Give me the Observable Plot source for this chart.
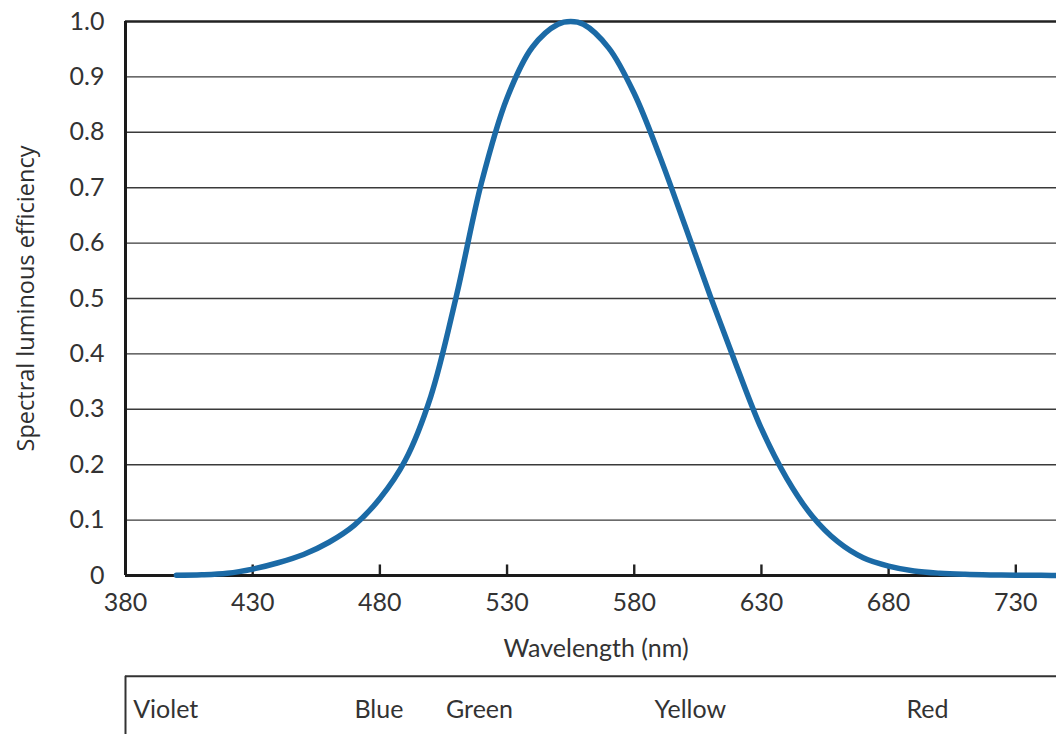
<!DOCTYPE html>
<html><head><meta charset="utf-8">
<script src="https://cdn.jsdelivr.net/npm/d3@7"></script>
<script src="https://cdn.jsdelivr.net/npm/@observablehq/plot@0.6"></script>
<style>
body{margin:0;background:#fff}
#chart svg{display:block;font-family:Lato,"Open Sans",sans-serif}
</style>
</head><body><div id="chart"></div>
<script>
// Spectral luminous efficiency
const wavelength = [400,410,420,430,440,450,460,470,480,490,500,510,520,530,540,550,555,560,570,580,590,600,610,620,630,640,650,660,670,680,690,700,710,720,730,740,750];
const efficiency = [0.0004,0.0012,0.004,0.0116,0.023,0.038,0.06,0.091,0.139,0.208,0.323,0.503,0.71,0.862,0.954,0.995,1.0,0.995,0.952,0.87,0.757,0.631,0.503,0.381,0.265,0.175,0.107,0.061,0.032,0.017,0.0082,0.0041,0.0021,0.00105,0.00052,0.00025,0.00012];
const xTicks = [380,430,480,530,580,630,680,730];
const xTickLabels = ["380","430","480","530","580","630","680","730"];
const yTicks = [0,0.1,0.2,0.3,0.4,0.5,0.6,0.7,0.8,0.9,1.0];
const yTickLabels = ["0","0.1","0.2","0.3","0.4","0.5","0.6","0.7","0.8","0.9","1.0"];
const bandNames = ["Violet","Blue","Green","Yellow","Red"];
const bandStart = [383,470,506,588,687];
const xLabel = "Wavelength (nm)";
const yLabel = "Spectral luminous efficiency";

const curve = wavelength.map((w,i)=>({w, v: efficiency[i]}));
const bands = bandNames.map((n,i)=>({n, x: bandStart[i]}));
const xMap = new Map(xTicks.map((t,i)=>[t,xTickLabels[i]]));
const yMap = new Map(yTicks.map((t,i)=>[t,yTickLabels[i]]));

const xMin = 380, xMax = 746;
const stripTop = -0.182, stripText = -0.242, stripBottom = -0.3;

const chart = Plot.plot({
  width: 1056, height: 734,
  marginLeft: 125, marginRight: 0, marginTop: 21, marginBottom: 159,
  style: {fontFamily: "Lato, 'Open Sans', sans-serif", color: "#333", background: "#fff"},
  x: {domain: [xMin, xMax], axis: null},
  y: {domain: [0, 1], axis: null},
  marks: [
    Plot.ruleY(yTicks.filter(t => t > 0 && t < 1), {stroke: "#3a3a3a", strokeWidth: 1.4, x1: xMin, x2: xMax}),
    Plot.ruleY([1], {stroke: "#222", strokeWidth: 2.6, x1: xMin, x2: xMax}),
    Plot.ruleX(xTicks.slice(1), {y1: 0, y2: 0.019, stroke: "#222", strokeWidth: 2.4}),
    Plot.ruleY([0], {stroke: "#1a1a1a", strokeWidth: 3, x1: xMin, x2: xMax}),
    Plot.ruleX([xMin], {y1: 0, y2: 1, stroke: "#1a1a1a", strokeWidth: 3}),
    Plot.line(curve, {x: "w", y: "v", stroke: "#1b6aa6", strokeWidth: 5.5, curve: "catmull-rom"}),
    Plot.axisX({ticks: xTicks, tickFormat: d => xMap.get(d), tickSize: 0, tickPadding: 18, fontSize: 25, label: null, fill: "#333"}),
    Plot.axisY({ticks: yTicks, tickFormat: d => yMap.get(d), tickSize: 0, tickPadding: 21, fontSize: 25, label: null, fill: "#333"}),
    Plot.text([xLabel], {x: 565, y: -0.132, fontSize: 25, fill: "#333", text: d => d}),
    Plot.text([yLabel], {frameAnchor: "left", textAnchor: "middle", lineAnchor: "middle", rotate: -90, dx: -99, fontSize: 23.5, fill: "#2e2e2e", fontFamily: "'Open Sans', sans-serif", text: d => d}),
    // colour band strip below the axis
    Plot.ruleY([stripTop], {x1: xMin, x2: xMax, stroke: "#333", strokeWidth: 2}),
    Plot.ruleX([xMin], {y1: stripTop, y2: stripBottom, stroke: "#333", strokeWidth: 2}),
    Plot.text(bands, {x: "x", y: stripText, text: "n", textAnchor: "start", fontSize: 25, fill: "#333"})
  ]
});
document.getElementById("chart").append(chart);
</script>
</body></html>
